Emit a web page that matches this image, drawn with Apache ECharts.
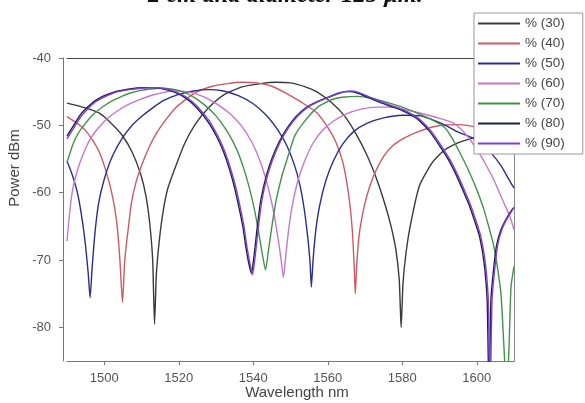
<!DOCTYPE html>
<html>
<head>
<meta charset="utf-8">
<script src="https://cdn.jsdelivr.net/npm/echarts@6/dist/echarts.min.js"></script>
<style>
  html, body { margin: 0; padding: 0; background: #fff; }
  #chart { width: 585px; height: 403px; }
</style>
</head>
<body>
<div id="chart"></div>
<script>
// Transmission spectra, [wavelength nm, power dBm]
const s30 = [[1490,-46.7],[1493,-47.1],[1496,-47.6],[1498.7,-48.2],[1501.5,-49.5],[1504.7,-51.4],[1507.5,-54],[1509.8,-57.3],[1511.2,-60.5],[1512.2,-64.5],[1513,-70],[1513.5,-79.5],[1514,-72],[1514.8,-67],[1515.8,-62.8],[1517,-59.5],[1518.9,-56.5],[1521.5,-52.8],[1524.5,-49.8],[1528,-47.4],[1532,-45.5],[1537,-44.3],[1542,-43.8],[1546,-43.6],[1550,-43.7],[1554,-44.3],[1557.3,-45.1],[1561,-46.6],[1564.5,-48.6],[1567.5,-51.2],[1570.5,-54.4],[1573,-57.8],[1575.3,-61.6],[1577,-65],[1578.3,-68.5],[1579.2,-73],[1579.7,-80],[1580.2,-73.5],[1581,-69],[1582.3,-64.5],[1584.6,-59],[1588.1,-55.5],[1591.3,-53.7],[1595.4,-52.5],[1598.8,-51.9],[1603,-51.1],[1606.5,-50.6],[1610,-50.3]];

const s40 = [[1490,-48.7],[1492.5,-49.6],[1494.7,-50.6],[1497,-52.3],[1498.7,-54],[1500.3,-56.5],[1501.7,-59.3],[1502.8,-62.3],[1503.5,-65.2],[1504.2,-70],[1504.9,-76.3],[1505.5,-70],[1506.3,-66],[1507.3,-61.5],[1508.5,-58.5],[1510,-56],[1512,-53.3],[1514,-51.2],[1516.5,-49.2],[1519,-47.5],[1522,-46.1],[1525,-45],[1529,-44.2],[1533,-43.8],[1537,-43.6],[1541,-43.7],[1545,-44.2],[1549,-45.3],[1553,-46.6],[1557,-48.1],[1560,-50.3],[1562.2,-52.5],[1564,-55.4],[1565.2,-58.8],[1566.1,-62.5],[1566.7,-66.5],[1567.1,-71],[1567.4,-75],[1567.8,-70.5],[1568.5,-66],[1569.8,-62],[1571.2,-59.2],[1572.8,-56.9],[1575,-54.6],[1577.5,-53],[1580.5,-51.9],[1584,-51],[1589.4,-50.1],[1595.5,-49.9],[1600,-50.3],[1605,-51.2],[1610,-52.5]];

const s50 = [[1490,-55.3],[1491.5,-57.5],[1493,-60.5],[1494.2,-64.5],[1495,-68],[1495.7,-72],[1496.2,-75.6],[1496.7,-71.5],[1497.5,-66],[1498.5,-61.5],[1500,-58],[1502,-54.8],[1504.7,-52],[1507.5,-50],[1510,-48.7],[1513,-47.4],[1516,-46.3],[1520,-45.4],[1524,-44.9],[1528,-44.7],[1532,-44.9],[1536,-45.6],[1540,-46.8],[1543.5,-48.5],[1546.5,-50.6],[1549,-53],[1551,-55.8],[1552.5,-58.8],[1553.7,-62.5],[1554.6,-66.5],[1555.2,-70],[1555.6,-74],[1556,-70.5],[1556.7,-66],[1557.8,-62],[1559.5,-58.2],[1561.5,-55.3],[1564,-52.8],[1567,-50.9],[1570.5,-49.7],[1575,-48.9],[1580,-48.5],[1585,-48.6],[1588.7,-49.3],[1592,-50.1],[1595,-51],[1598.6,-51.8],[1601.5,-52.9],[1604,-54.2],[1606.5,-56],[1609.3,-58.7],[1610,-59.3]];

const s60 = [[1490,-67.2],[1490.8,-62.5],[1491.6,-59.3],[1493,-56.3],[1494.7,-53.8],[1496.5,-51.8],[1498.7,-50.2],[1501,-48.9],[1503.7,-47.8],[1506.5,-46.9],[1509.8,-46.1],[1513,-45.5],[1516,-45.1],[1519,-44.9],[1522,-45],[1525,-45.4],[1528,-46.1],[1531,-47.1],[1534,-48.4],[1537,-50.2],[1539.5,-52.4],[1541.5,-54.8],[1543.2,-57.6],[1544.6,-60.6],[1545.7,-63.6],[1546.6,-66.6],[1547.4,-69.6],[1548.1,-72.6],[1548.7,-69.5],[1549.5,-65.5],[1550.5,-61.8],[1552,-58.2],[1553.8,-55.3],[1556,-52.7],[1558.5,-50.8],[1561.5,-49.4],[1565,-48.3],[1569,-47.6],[1573,-47.3],[1577,-47.3],[1581,-47.7],[1585,-48.2],[1589,-48.8],[1593.5,-49.6],[1596,-50.7],[1598,-52],[1600.3,-53.8],[1602.6,-56],[1604.5,-58],[1606.1,-60],[1607.5,-61.8],[1608.8,-63.4],[1610,-65.5]];

const s70 = [[1490,-55.5],[1491.6,-52.8],[1493,-51.2],[1494.7,-49.9],[1497,-48.4],[1499.7,-47.2],[1502,-46.4],[1504.7,-45.7],[1507,-45.2],[1509.8,-44.8],[1512.5,-44.6],[1515,-44.5],[1518,-44.6],[1521,-45],[1524,-45.8],[1527,-47],[1530,-48.6],[1533,-50.9],[1535.5,-53.5],[1537.5,-56.5],[1539.2,-59.8],[1540.5,-63],[1541.5,-66],[1542.4,-69],[1543.3,-71.5],[1544.1,-68.5],[1545,-65],[1546.2,-61],[1547.8,-57.3],[1549.5,-54.3],[1551.1,-51.6],[1553.5,-49.6],[1557.3,-47.3],[1561,-46.2],[1564.5,-45.8],[1568,-45.7],[1572,-46],[1576,-46.6],[1580,-47.3],[1584,-48.2],[1588,-49.2],[1591.3,-50.3],[1593.5,-52],[1595.4,-54],[1597.8,-56.7],[1599.9,-59.4],[1601.8,-62.3],[1603.4,-65.4],[1604.6,-68],[1605.5,-70.9],[1606.5,-75],[1607.4,-84],[1608,-90],[1608.6,-84],[1609.2,-74],[1610,-71]];

const s80 = [[1490,-51.6],[1491.8,-50],[1493.6,-48.4],[1495.7,-47.2],[1497.7,-46.3],[1500,-45.6],[1503,-45],[1506.8,-44.6],[1510,-44.4],[1513,-44.4],[1516,-44.6],[1519,-45.1],[1522,-46],[1525,-47.5],[1528,-49.6],[1530.3,-51.8],[1532,-53.9],[1533.6,-56.5],[1535,-59.3],[1536.2,-62.3],[1537.2,-65],[1538,-68],[1538.8,-70.5],[1539.5,-72],[1540.2,-69.5],[1541,-65.5],[1542,-61.2],[1543.5,-57.5],[1545.1,-54.8],[1547,-52.4],[1549.1,-50.4],[1551.5,-48.7],[1554.1,-47.4],[1557,-46.5],[1560.2,-45.8],[1563,-45.2],[1565.5,-45],[1568,-45.2],[1571,-45.9],[1574,-46.6],[1577,-47.2],[1580,-47.8],[1582.5,-48.5],[1584.6,-49.3],[1587.5,-51],[1590,-53],[1592.5,-55.2],[1594.6,-57.5],[1596.5,-59.9],[1598,-61.9],[1599.5,-64.3],[1600.7,-66.4],[1601.6,-69],[1602.2,-71.5],[1602.8,-76],[1603.3,-90],[1603.8,-76],[1604.4,-72],[1605.3,-67.9],[1606.5,-65.5],[1608,-63.8],[1609.6,-62.4],[1610,-62.2]];

const s90 = [[1490,-52],[1491.8,-50.4],[1493.6,-48.8],[1495.7,-47.5],[1497.7,-46.5],[1500,-45.8],[1503,-45.1],[1506.8,-44.7],[1510,-44.5],[1513,-44.4],[1516,-44.5],[1519,-45],[1522,-45.8],[1525,-47.2],[1528,-49.2],[1530.5,-51.6],[1532.3,-53.8],[1533.9,-56.4],[1535.3,-59.2],[1536.5,-62.2],[1537.5,-65],[1538.3,-68],[1539.1,-70.5],[1539.8,-72.2],[1540.5,-69.5],[1541.3,-65.5],[1542.3,-61.2],[1543.8,-57.5],[1545.4,-54.8],[1547.3,-52.4],[1549.4,-50.4],[1551.8,-48.7],[1554.4,-47.4],[1557.3,-46.5],[1560.5,-45.8],[1563.3,-45.2],[1565.8,-44.9],[1568.3,-45.1],[1571.3,-45.8],[1574.3,-46.5],[1577.3,-47.1],[1580.3,-47.7],[1582.8,-48.4],[1584.9,-49.2],[1587.8,-50.9],[1590.3,-52.9],[1592.8,-55.1],[1594.9,-57.4],[1596.8,-59.8],[1598.3,-61.8],[1599.8,-64.2],[1601,-66.3],[1601.9,-68.9],[1602.5,-71.4],[1603.1,-76],[1603.6,-90],[1604.1,-76],[1604.7,-72],[1605.6,-67.8],[1606.8,-65.4],[1608.3,-63.7],[1609.9,-62.3],[1610,-62.2]];

const seriesNames = ['% (30)', '% (40)', '% (50)', '% (60)', '% (70)', '% (80)', '% (90)'];
const seriesData = [s30, s40, s50, s60, s70, s80, s90];
const seriesColors = ['#3a3a3a', '#cc5a62', '#2c2c90', '#c477cc', '#44924a', '#1e1e48', '#7d3fd6'];

const xTicks = [1500, 1520, 1540, 1560, 1580, 1600];
const yTicks = [-80, -70, -60, -50, -40];

const chart = echarts.init(document.getElementById('chart'), null, { renderer: 'canvas' });

const axisFont = { fontFamily: 'Liberation Sans, Arial, sans-serif', fontSize: 13, color: '#555' };

chart.setOption({
  animation: false,
  backgroundColor: '#fff',
  grid: { left: 67, right: 71, top: 58, bottom: 42 },
  xAxis: [
    {
      type: 'value', min: 1490, max: 1610, position: 'bottom',
      axisLine: { show: true, lineStyle: { color: '#777', width: 1 } },
      axisTick: { show: true, inside: false, length: 4, customValues: xTicks, lineStyle: { color: '#777' } },
      axisLabel: { show: true, margin: 11, customValues: xTicks, formatter: v => String(v), ...axisFont },
      splitLine: { show: false }
    },
    {
      type: 'value', min: 1490, max: 1610, position: 'top',
      axisLine: { show: true, onZero: false, lineStyle: { color: '#444', width: 1 } },
      axisTick: { show: false }, axisLabel: { show: false }, splitLine: { show: false }
    }
  ],
  yAxis: [
    {
      type: 'value', min: -85, max: -40, position: 'left', offset: 4,
      axisLine: { show: true, onZero: false, lineStyle: { color: '#777', width: 1 } },
      axisTick: { show: true, inside: false, length: 4, customValues: yTicks, lineStyle: { color: '#777' } },
      axisLabel: { show: true, margin: 12, customValues: yTicks, formatter: v => String(v), ...axisFont },
      splitLine: { show: false }
    },
    {
      type: 'value', min: -85, max: -40, position: 'right',
      axisLine: { show: true, onZero: false, lineStyle: { color: '#888', width: 1 } },
      axisTick: { show: false }, axisLabel: { show: false }, splitLine: { show: false }
    }
  ],
  legend: {
    orient: 'vertical',
    left: 474, top: 13,
    padding: [3, 18, 3, 4],
    itemGap: 5,
    itemWidth: 42, itemHeight: 2,
    icon: 'rect',
    backgroundColor: '#fff',
    borderColor: '#999', borderWidth: 1,
    textStyle: { fontFamily: 'Liberation Sans, Arial, sans-serif', fontSize: 13.5, color: '#444', lineHeight: 15 },
    data: seriesNames
  },
  graphic: [
    {
      type: 'text',
      x: 148, y: 8,
      style: {
        text: '2 cm and diameter 125 μm.',
        font: 'italic bold 24.5px "Liberation Serif", "Times New Roman", serif',
        fill: '#111', align: 'left', verticalAlign: 'bottom'
      }
    },
    {
      type: 'text',
      x: 15, y: 168, rotation: Math.PI / 2,
      style: {
        text: 'Power dBm',
        font: '15px "Liberation Sans", Arial, sans-serif',
        fill: '#444', align: 'center', verticalAlign: 'middle'
      }
    },
    {
      type: 'text',
      x: 297, y: 393,
      style: {
        text: 'Wavelength nm',
        font: '15px "Liberation Sans", Arial, sans-serif',
        fill: '#444', align: 'center', verticalAlign: 'middle'
      }
    }
  ],
  series: seriesNames.map((name, i) => ({
    name,
    type: 'line',
    data: seriesData[i],
    showSymbol: false,
    symbol: 'none',
    smooth: 0.2,
    clip: true,
    color: seriesColors[i],
    lineStyle: { width: 1.4, color: seriesColors[i] }
  }))
});
</script>
</body>
</html>
